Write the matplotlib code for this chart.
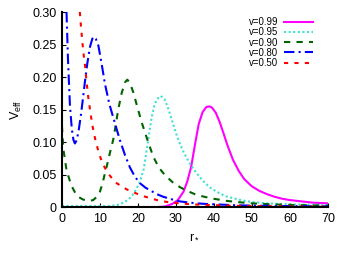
import matplotlib
matplotlib.use("Agg")
import matplotlib.pyplot as plt
from matplotlib.ticker import FuncFormatter

plt.rcParams["font.family"] = ["Liberation Sans", "DejaVu Sans"]
plt.rcParams["mathtext.fontset"] = "custom"
plt.rcParams["mathtext.rm"] = "Liberation Sans"
plt.rcParams["mathtext.it"] = "Liberation Sans"

# v = 0.99
x99 = [0, 20, 25, 27, 29, 30.5, 32, 33, 34, 35, 36, 37, 38, 38.8, 39.5, 40.5, 41.5, 42.5,
       43.5, 45, 46.5, 48, 50, 52, 54, 56, 58, 60, 63, 66, 70]
y99 = [0, 0, 0.0003, 0.001, 0.005, 0.011, 0.024, 0.040, 0.062, 0.096, 0.128, 0.146, 0.154,
       0.155, 0.153, 0.145, 0.131, 0.114, 0.096, 0.073, 0.056, 0.043, 0.032, 0.025, 0.020,
       0.016, 0.013, 0.011, 0.009, 0.007, 0.006]

# v = 0.95
x95 = [0, 10, 13, 15, 16.5, 17.5, 18.5, 19.5, 20.5, 21.5, 22.3, 23, 23.6, 24.3, 25, 26, 27,
       28, 29, 30, 31, 32, 33, 34, 35.5, 37, 39, 41, 43, 45, 47, 50, 54, 58, 62, 66, 70]
y95 = [0.002, 0.002, 0.002, 0.004, 0.008, 0.012, 0.018, 0.027, 0.039, 0.058, 0.088, 0.115,
       0.138, 0.156, 0.166, 0.171, 0.166, 0.151, 0.133, 0.114, 0.098, 0.085, 0.074, 0.064,
       0.052, 0.041, 0.030, 0.023, 0.017, 0.014, 0.011, 0.008, 0.006, 0.005, 0.004, 0.0037,
       0.0035]

# v = 0.90
x90 = [0, 0.35, 1.2, 2, 2.6, 3.5, 4.3, 5.5, 6.5, 7.5, 8.2, 9, 10, 10.7, 11.3, 12, 12.6, 13.5,
       14.2, 14.8, 15.7, 16.6, 17.2, 17.9, 18.8, 19.7, 21, 22.3, 24, 25.5, 27, 29, 31, 33, 35,
       37.5, 40, 43, 46, 50, 55, 60, 65, 70]
y90 = [0.125, 0.090, 0.057, 0.042, 0.032, 0.022, 0.016, 0.012, 0.010, 0.010, 0.011, 0.015,
       0.024, 0.037, 0.052, 0.068, 0.083, 0.104, 0.128, 0.150, 0.175, 0.192, 0.196, 0.191,
       0.176, 0.157, 0.130, 0.107, 0.078, 0.061, 0.050, 0.039, 0.031, 0.025, 0.020, 0.016,
       0.013, 0.010, 0.008, 0.006, 0.0045, 0.0035, 0.003, 0.0025]

# v = 0.80
x80 = [1.2, 1.6, 2.1, 2.6, 3.0, 3.4, 3.9, 4.4, 5.0, 5.5, 6.05, 6.7, 7.4, 8, 8.4, 8.9, 9.6,
       10.4, 11.3, 12.5, 13.9, 15.2, 16.6, 17.9, 19.2, 20.5, 22, 23.2, 25, 26.7, 29, 31, 33,
       35.4, 38, 42, 46, 50, 55, 60, 65, 70]
y80 = [0.30, 0.225, 0.157, 0.120, 0.104, 0.098, 0.103, 0.118, 0.142, 0.166, 0.193, 0.222,
       0.247, 0.259, 0.262, 0.259, 0.248, 0.222, 0.190, 0.158, 0.130, 0.104, 0.080, 0.061,
       0.047, 0.037, 0.030, 0.026, 0.020, 0.016, 0.012, 0.009, 0.0075, 0.006, 0.005, 0.004,
       0.003, 0.0025, 0.002, 0.0017, 0.0015, 0.0013]

# v = 0.50
x50 = [4.7, 5.0, 5.4, 5.8, 6.05, 6.5, 6.9, 7.5, 8.1, 8.7, 9.5, 10.2, 10.9, 12, 13.1, 14.4,
       15.7, 17.2, 18.8, 20.5, 22, 23.2, 25, 26.7, 29, 31, 34, 38, 42, 46, 50, 55, 60, 65, 70]
y50 = [0.30, 0.278, 0.252, 0.230, 0.219, 0.192, 0.170, 0.145, 0.123, 0.106, 0.088, 0.075,
       0.065, 0.053, 0.045, 0.037, 0.032, 0.027, 0.023, 0.019, 0.016, 0.014, 0.011, 0.009,
       0.007, 0.006, 0.0045, 0.0035, 0.0028, 0.0022, 0.0018, 0.0015, 0.0012, 0.001, 0.0009]

fig = plt.figure(figsize=(3.5, 2.61), dpi=100)
ax = fig.add_axes([0.177, 0.206, 0.760, 0.748])

ax.plot(x99, y99, color="#ff00ff", lw=1.5, ls="-", label="v=0.99")
ax.plot(x95, y95, color="#40e0d0", lw=1.5, ls=(0, (1, 1.2)), label="v=0.95")
ax.plot(x90, y90, color="#006400", lw=1.5, ls=(0, (3, 3)), label="v=0.90")
ax.plot(x80, y80, color="#0000ff", lw=1.5, ls=(0, (5, 2, 1, 2)), label="v=0.80")
ax.plot(x50, y50, color="#ff0000", lw=1.5, ls=(0, (2, 3)), label="v=0.50")

ax.set_xlim(0, 70)
ax.set_ylim(0, 0.30)
ax.set_xticks(range(0, 71, 10))
ax.set_yticks([0, 0.05, 0.10, 0.15, 0.20, 0.25, 0.30])
ax.yaxis.set_major_formatter(FuncFormatter(lambda v, p: "0" if v == 0 else "%.2f" % v))

ax.spines["top"].set_visible(False)
ax.spines["right"].set_visible(False)
ax.spines["left"].set_linewidth(1.5)
ax.spines["bottom"].set_linewidth(1.5)
ax.tick_params(direction="in", length=3, labelsize=9, pad=4)

ax.set_xlabel(r"r$_*$", fontsize=9, labelpad=4)
ax.set_ylabel(r"V$_{\rm eff}$", fontsize=9, labelpad=6)

ax.legend(loc="upper right", bbox_to_anchor=(0.957, 0.993), borderaxespad=0,
          frameon=False, fontsize=6.9, markerfirst=False, handlelength=3,
          handletextpad=0.6, labelspacing=0.02)

fig.savefig("out.png", dpi=100)
